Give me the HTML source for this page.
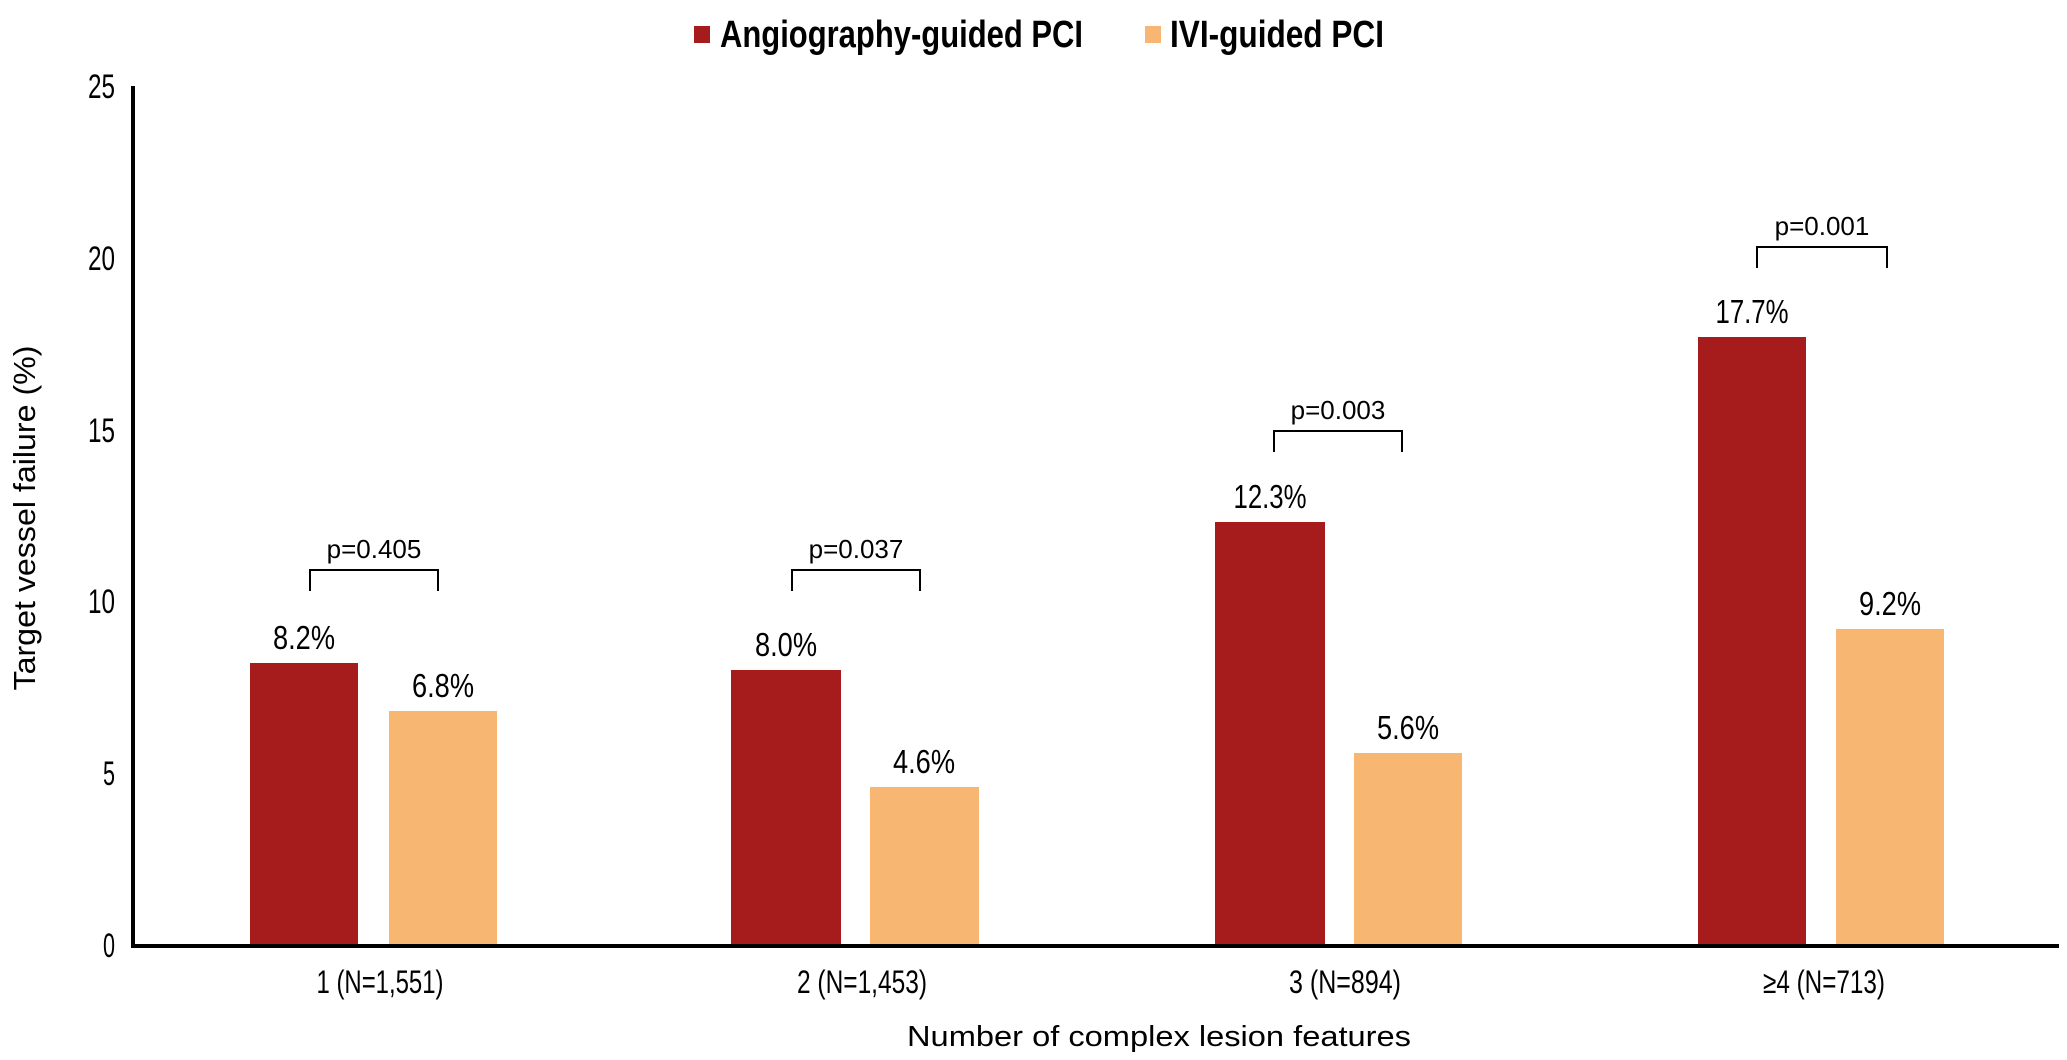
<!DOCTYPE html>
<html><head><meta charset="utf-8"><style>
html,body{margin:0;padding:0;background:#fff;}
svg{display:block;}
</style></head><body>
<svg width="2067" height="1060" viewBox="0 0 2067 1060" xmlns="http://www.w3.org/2000/svg" font-family="Liberation Sans, sans-serif">
<rect width="2067" height="1060" fill="#fff"/>
<rect x="694" y="26" width="16" height="17" fill="#A61B1B"/>
<text x="720" y="47" font-size="38" font-weight="bold" textLength="363" lengthAdjust="spacingAndGlyphs">Angiography-guided PCI</text>
<rect x="1145" y="26" width="16" height="17" fill="#F7B773"/>
<text x="1170" y="47" font-size="38" font-weight="bold" textLength="214" lengthAdjust="spacingAndGlyphs">IVI-guided PCI</text>
<g font-size="34" text-anchor="end">
<text x="115" y="957" textLength="12" lengthAdjust="spacingAndGlyphs">0</text>
<text x="115" y="785" textLength="12" lengthAdjust="spacingAndGlyphs">5</text>
<text x="115" y="613" textLength="27" lengthAdjust="spacingAndGlyphs">10</text>
<text x="115" y="442" textLength="27" lengthAdjust="spacingAndGlyphs">15</text>
<text x="115" y="270" textLength="27" lengthAdjust="spacingAndGlyphs">20</text>
<text x="115" y="98" textLength="27" lengthAdjust="spacingAndGlyphs">25</text>
</g>
<text transform="translate(35,518) rotate(-90)" font-size="31" text-anchor="middle" textLength="345" lengthAdjust="spacingAndGlyphs">Target vessel failure (%)</text>
<rect x="250" y="663" width="108" height="282" fill="#A61B1B"/>
<rect x="389" y="711" width="108" height="234" fill="#F7B773"/>
<rect x="731" y="670" width="110" height="275" fill="#A61B1B"/>
<rect x="870" y="787" width="109" height="158" fill="#F7B773"/>
<rect x="1215" y="522" width="110" height="423" fill="#A61B1B"/>
<rect x="1354" y="753" width="108" height="192" fill="#F7B773"/>
<rect x="1698" y="337" width="108" height="608" fill="#A61B1B"/>
<rect x="1836" y="629" width="108" height="316" fill="#F7B773"/>
<rect x="131" y="86" width="4" height="862" fill="#000"/>
<rect x="131" y="944" width="1928" height="4" fill="#000"/>
<g font-size="33" text-anchor="middle">
<text x="304" y="649" textLength="62" lengthAdjust="spacingAndGlyphs">8.2%</text>
<text x="443" y="697" textLength="62" lengthAdjust="spacingAndGlyphs">6.8%</text>
<text x="786" y="656" textLength="62" lengthAdjust="spacingAndGlyphs">8.0%</text>
<text x="924" y="773" textLength="62" lengthAdjust="spacingAndGlyphs">4.6%</text>
<text x="1270" y="508" textLength="73" lengthAdjust="spacingAndGlyphs">12.3%</text>
<text x="1408" y="739" textLength="62" lengthAdjust="spacingAndGlyphs">5.6%</text>
<text x="1752" y="323" textLength="73" lengthAdjust="spacingAndGlyphs">17.7%</text>
<text x="1890" y="615" textLength="62" lengthAdjust="spacingAndGlyphs">9.2%</text>
</g>
<g fill="none" stroke="#000" stroke-width="2">
<path d="M310 591 V570 H438 V591"/>
<path d="M792 591 V570 H920 V591"/>
<path d="M1274 452 V431 H1402 V452"/>
<path d="M1757 268 V247 H1887 V268"/>
</g>
<g font-size="26" text-anchor="middle">
<text x="374" y="558">p=0.405</text>
<text x="856" y="558">p=0.037</text>
<text x="1338" y="419">p=0.003</text>
<text x="1822" y="235">p=0.001</text>
</g>
<g font-size="32" text-anchor="middle">
<text x="380" y="993" textLength="127" lengthAdjust="spacingAndGlyphs">1 (N=1,551)</text>
<text x="862" y="993" textLength="130" lengthAdjust="spacingAndGlyphs">2 (N=1,453)</text>
<text x="1345" y="993" textLength="112" lengthAdjust="spacingAndGlyphs">3 (N=894)</text>
<text x="1824" y="993" textLength="122" lengthAdjust="spacingAndGlyphs">≥4 (N=713)</text>
</g>
<text x="1159" y="1046" font-size="29" text-anchor="middle" textLength="504" lengthAdjust="spacingAndGlyphs">Number of complex lesion features</text>
</svg>
</body></html>
